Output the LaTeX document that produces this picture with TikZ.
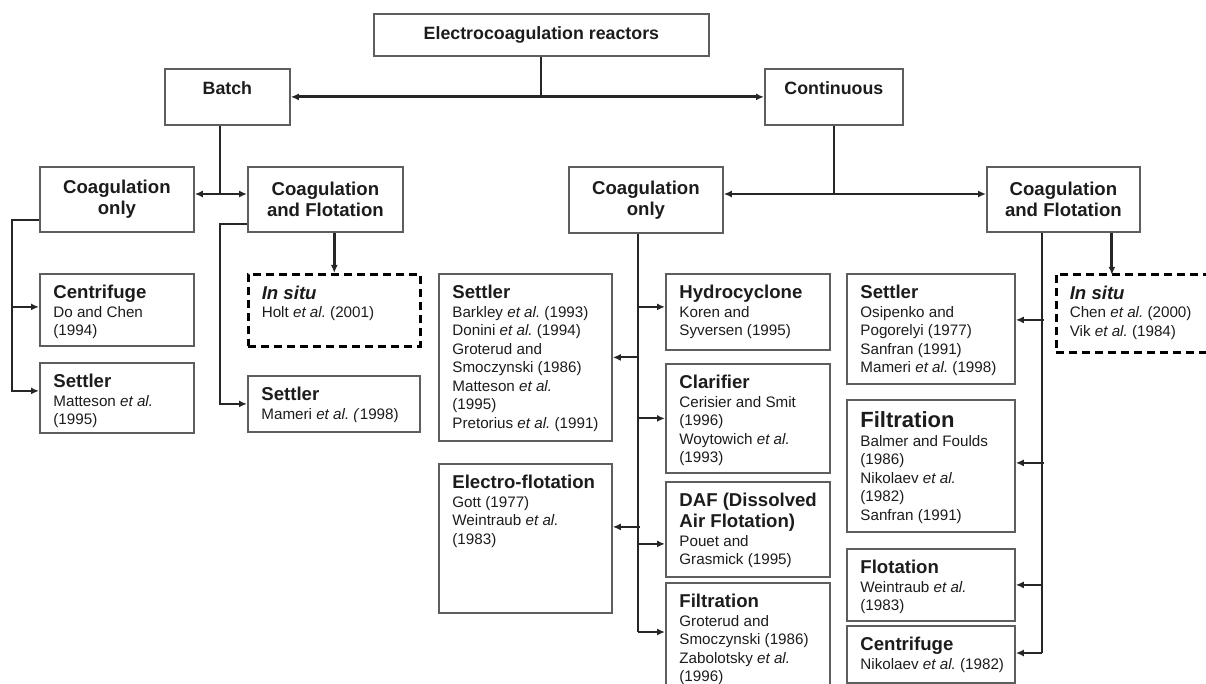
\documentclass[tikz,border=0pt]{standalone}
\usepackage{fontspec}
\setmainfont{Liberation Sans}
\usetikzlibrary{arrows.meta,positioning}

\definecolor{boxline}{HTML}{5E5E5E}
\definecolor{wirecol}{HTML}{262626}
\definecolor{ink}{HTML}{1C1C1C}

\newcommand{\topfont}{\bfseries\fontsize{17.8}{21}\selectfont}
\newcommand{\headfont}{\bfseries\fontsize{18.6}{21}\selectfont}
\newcommand{\citefont}{\fontsize{15.2}{18.5}\selectfont}
% text of a reference box: width, height, heading, entries
\newcommand{\refcell}[4]{\parbox[t][#2pt][t]{#1pt}{\raggedright\frenchspacing\leftskip=13.5pt
  {\headfont\rule{0pt}{25pt}#3\par}\citefont #4\par}}

\begin{document}
\begin{tikzpicture}[x=1pt,y=-1pt,
  every node/.style={text=ink,inner sep=0pt,anchor=north west},
  box/.style={draw=boxline,line width=1.8pt},
  headbox/.style={box,align=center,font=\headfont,minimum height=65pt},
  topbox/.style={box,align=center,font=\topfont},
  insitu/.style={draw=black,line width=2.6pt,dash pattern=on 8pt off 5pt},
  link/.style={draw=wirecol,line width=2pt},
  linkto/.style={link,-{Latex[length=8pt,width=7pt]}},
  linkback/.style={link,{Latex[length=8pt,width=7pt]}-},
  linkboth/.style={link,{Latex[length=8pt,width=7pt]}-{Latex[length=8pt,width=7pt]}}]
  \useasboundingbox (0,0) rectangle (1206,684);

  \node[topbox,minimum width=335pt,minimum height=42pt] (ec) at (373,13) {Electrocoagulation reactors};
  \node[topbox,minimum width=125pt,minimum height=56pt,text height=13pt,text depth=18pt] (batch) at (164,68) {Batch};
  \node[topbox,minimum width=138pt,minimum height=56pt,text height=13pt,text depth=18pt] (cont) at (764,68) {Continuous};

  \node[headbox,minimum width=154pt] (coagL) at (39,166) {Coagulation\\only};
  \node[headbox,minimum width=155pt] (flotL) at (247,166) {Coagulation\\and Flotation};
  \node[headbox,minimum width=154pt,minimum height=66pt] (coagM) at (568,166) {Coagulation\\only};
  \node[headbox,minimum width=153pt] (flotR) at (986,166) {Coagulation\\and Flotation};

  % batch side
  \node[box] (centL) at (39,273) {\refcell{154}{72}{Centrifuge}{Do and Chen\\(1994)}};
  \node[box] (settL) at (39,362) {\refcell{154}{70}{Settler}{Matteson \textit{et al.}\\(1995)}};
  \node[insitu] (situL) at (247,273) {\refcell{172}{72}{\textit{In situ}}{Holt \textit{et al.} (2001)}};
  \node[box] (settL2) at (247,375) {\refcell{172}{56}{Settler}{Mameri \textit{et al. (}1998)}};

  % continuous, coagulation only
  \node[box] (settM) at (438,273) {\refcell{173}{167}{Settler}{Barkley \textit{et al.} (1993)\\Donini \textit{et al.} (1994)\\Groterud and\\Smoczynski (1986)\\Matteson \textit{et al.}\\(1995)\\Pretorius \textit{et al.} (1991)}};
  \node[box] (eflot) at (438,463) {\refcell{173}{149}{Electro-flotation}{Gott (1977)\\Weintraub \textit{et al.}\\(1983)}};
  \node[box] (hydro) at (665,273) {\refcell{164}{76}{Hydrocyclone}{Koren and\\Syversen (1995)}};
  \node[box] (clar) at (665,363) {\refcell{164}{109}{Clarifier}{Cerisier and Smit\\(1996)\\Woytowich \textit{et al.}\\(1993)}};
  \node[box] (daf) at (665,481) {\refcell{164}{95}{DAF (Dissolved\\Air Flotation)}{Pouet and\\Grasmick (1995)}};
  \node[box] (filtM) at (665,582) {\refcell{164}{125}{Filtration}{Groterud and\\Smoczynski (1986)\\Zabolotsky \textit{et al.}\\(1996)}};

  % continuous, coagulation and flotation
  \node[box] (settR) at (846,273) {\refcell{168}{110}{Settler}{Osipenko and\\Pogorelyi (1977)\\Sanfran (1991)\\Mameri \textit{et al.} (1998)}};
  \node[box] (filtR) at (846,399) {\refcell{168}{132}{\fontsize{22}{24}\selectfont\rule{0pt}{28pt}Filtration}{Balmer and Foulds\\(1986)\\Nikolaev \textit{et al.}\\(1982)\\Sanfran (1991)}};
  \node[box] (flotR2) at (846,548) {\refcell{168}{72}{Flotation}{Weintraub \textit{et al.}\\(1983)}};
  \node[box] (centR) at (846,625) {\refcell{168}{57}{Centrifuge}{Nikolaev \textit{et al.} (1982)}};
  \node[insitu] (situR) at (1055,273) {\refcell{175}{78}{\textit{In situ}}{Chen \textit{et al.} (2000)\\Vik \textit{et al.} (1984)}};

  \coordinate (jL) at (220,194);
  \coordinate (busM) at (638,632);
  \coordinate (busR) at (1042,653);

  \draw[link] (ec.south) -- (ec.south |- batch.east);
  \draw[linkboth,line width=3pt] (batch.east) -- (cont.west);
  \draw[link] (batch.south -| jL) -- (jL);
  \draw[linkboth] (coagL.east |- jL) -- (flotL.west |- jL);
  \draw[link] (cont.south) -- (cont.south |- jL);
  \draw[linkboth] (coagM.east |- jL) -- (flotR.west |- jL);

  \draw[linkto] ([yshift=13pt]coagL.south west) -| ([xshift=-27pt,yshift=7pt]settL.west) -- ([yshift=7pt]settL.west);
  \draw[linkback] ([yshift=3pt]centL.west) -- ++(-27,0);
  \draw[linkto] ([yshift=9pt]flotL.south west) -| ([xshift=-27pt]settL2.west) -- (settL2.west);
  \draw[linkto,line width=3pt] (situL.north |- flotL.south) -- (situL.north);

  \draw[link] (coagM.south -| busM) -- (busM);
  \draw[linkto] (busM |- settM.east) -- (settM.east);
  \draw[linkback] ([yshift=11.5pt]eflot.east) -- ++(27,0);
  \draw[linkback] ([yshift=5pt]hydro.west) -- ++(-27,0);
  \draw[linkto] (busM |- clar.west) -- (clar.west);
  \draw[linkback] ([yshift=-14.5pt]daf.west) -- ++(-27,0);
  \draw[linkto] (busM) -- (filtM.west |- busM);

  \draw[link] (flotR.south -| busR) -- (busR);
  \draw[linkback] ([yshift=9pt]settR.east) -- ++(28,0);
  \draw[linkback] ([yshift=3pt]filtR.east) -- ++(28,0);
  \draw[linkto] (busR |- flotR2.east) -- (flotR2.east);
  \draw[linkto] (busR) -- (centR.east |- busR);
  \draw[linkto,line width=3pt] ([xshift=48.5pt]flotR.south) -- ++(0,42);
\end{tikzpicture}
\end{document}
